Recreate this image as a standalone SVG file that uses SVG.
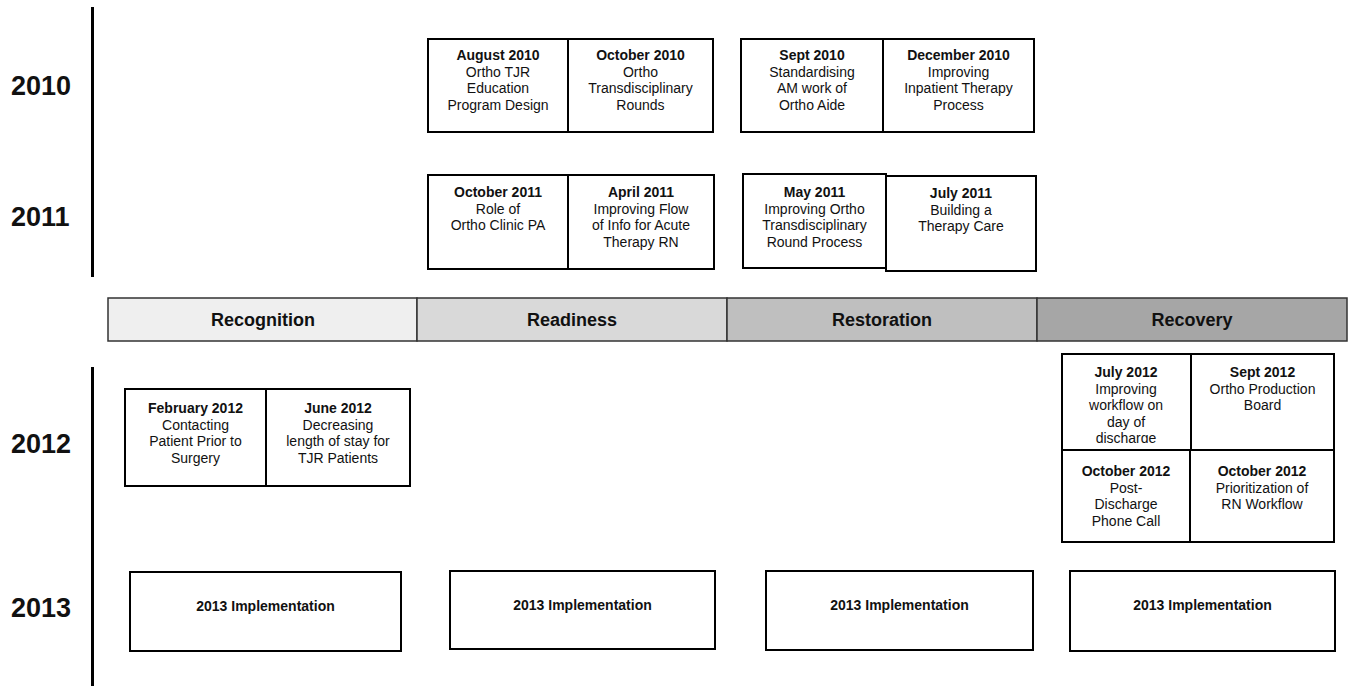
<svg xmlns="http://www.w3.org/2000/svg" width="1348" height="686" viewBox="0 0 1348 686">
<style>
text{font-family:"Liberation Sans",Arial,sans-serif;fill:#111;text-anchor:middle}
.yr{font-size:27px;font-weight:bold;text-anchor:start}
.ph{font-size:18px;font-weight:bold}
.t{font-size:14px}
.b{font-weight:bold}
.box{fill:#fff;stroke:#000;stroke-width:2}
.bar{stroke:#333;stroke-width:1.5}
.axis{stroke:#000;stroke-width:3}
</style>
<defs>
<clipPath id="clipJuly"><rect x="1062" y="355" width="128" height="88"/></clipPath>
</defs>
<g id="axes">
<line class="axis" x1="92.5" y1="7" x2="92.5" y2="277"/>
<line class="axis" x1="92.5" y1="367" x2="92.5" y2="686"/>
</g>
<g id="years">
<text class="yr" x="11" y="95">2010</text>
<text class="yr" x="11" y="226">2011</text>
<text class="yr" x="11" y="453">2012</text>
<text class="yr" x="11" y="617">2013</text>
</g>
<g id="phases">
<g id="recognition"><rect class="bar" x="108" y="298" width="309" height="43" fill="#efefef"/><text class="ph" x="263" y="326">Recognition</text></g>
<g id="readiness"><rect class="bar" x="417" y="298" width="310" height="43" fill="#d9d9d9"/><text class="ph" x="572" y="326">Readiness</text></g>
<g id="restoration"><rect class="bar" x="727" y="298" width="310" height="43" fill="#bfbfbf"/><text class="ph" x="882" y="326">Restoration</text></g>
<g id="recovery"><rect class="bar" x="1037" y="298" width="310" height="43" fill="#a6a6a6"/><text class="ph" x="1192" y="326">Recovery</text></g>
</g>
<g id="connectors"></g>
<g id="n-aug2010"><rect class="box" x="428" y="39" width="140" height="93"/>
<text class="t" x="498"><tspan class="b" x="498" y="60">August 2010</tspan><tspan x="498" y="76.5">Ortho TJR</tspan><tspan x="498" y="93">Education</tspan><tspan x="498" y="109.5">Program Design</tspan></text></g>
<g id="n-oct2010"><rect class="box" x="568" y="39" width="145" height="93"/>
<text class="t" x="640.5"><tspan class="b" x="640.5" y="60">October 2010</tspan><tspan x="640.5" y="76.5">Ortho</tspan><tspan x="640.5" y="93">Transdisciplinary</tspan><tspan x="640.5" y="109.5">Rounds</tspan></text></g>
<g id="n-sep2010"><rect class="box" x="741" y="39" width="142" height="93"/>
<text class="t" x="812"><tspan class="b" x="812" y="60">Sept 2010</tspan><tspan x="812" y="76.5">Standardising</tspan><tspan x="812" y="93">AM work of</tspan><tspan x="812" y="109.5">Ortho Aide</tspan></text></g>
<g id="n-dec2010"><rect class="box" x="883" y="39" width="151" height="93"/>
<text class="t" x="958.5"><tspan class="b" x="958.5" y="60">December 2010</tspan><tspan x="958.5" y="76.5">Improving</tspan><tspan x="958.5" y="93">Inpatient Therapy</tspan><tspan x="958.5" y="109.5">Process</tspan></text></g>
<g id="n-oct2011"><rect class="box" x="428" y="175" width="140" height="94"/>
<text class="t" x="498"><tspan class="b" x="498" y="197">October 2011</tspan><tspan x="498" y="213.5">Role of</tspan><tspan x="498" y="230">Ortho Clinic PA</tspan></text></g>
<g id="n-apr2011"><rect class="box" x="568" y="175" width="146" height="94"/>
<text class="t" x="641"><tspan class="b" x="641" y="197">April 2011</tspan><tspan x="641" y="213.5">Improving Flow</tspan><tspan x="641" y="230">of Info for Acute</tspan><tspan x="641" y="246.5">Therapy RN</tspan></text></g>
<g id="n-may2011"><rect class="box" x="743" y="174" width="143" height="94"/>
<text class="t" x="814.5"><tspan class="b" x="814.5" y="197">May 2011</tspan><tspan x="814.5" y="213.5">Improving Ortho</tspan><tspan x="814.5" y="230">Transdisciplinary</tspan><tspan x="814.5" y="246.5">Round Process</tspan></text></g>
<g id="n-jul2011"><rect class="box" x="886" y="176" width="150" height="95"/>
<text class="t" x="961"><tspan class="b" x="961" y="198">July 2011</tspan><tspan x="961" y="214.5">Building a</tspan><tspan x="961" y="231">Therapy Care</tspan></text></g>
<g id="n-feb2012"><rect class="box" x="125" y="389" width="141" height="97"/>
<text class="t" x="195.5"><tspan class="b" x="195.5" y="413">February 2012</tspan><tspan x="195.5" y="429.5">Contacting</tspan><tspan x="195.5" y="446">Patient Prior to</tspan><tspan x="195.5" y="462.5">Surgery</tspan></text></g>
<g id="n-jun2012"><rect class="box" x="266" y="389" width="144" height="97"/>
<text class="t" x="338"><tspan class="b" x="338" y="413">June 2012</tspan><tspan x="338" y="429.5">Decreasing</tspan><tspan x="338" y="446">length of stay for</tspan><tspan x="338" y="462.5">TJR Patients</tspan></text></g>
<g id="n-jul2012"><rect class="box" x="1062" y="354" width="129" height="96"/>
<text class="t" x="1126" clip-path="url(#clipJuly)"><tspan class="b" x="1126" y="377">July 2012</tspan><tspan x="1126" y="393.5">Improving</tspan><tspan x="1126" y="410">workflow on</tspan><tspan x="1126" y="426.5">day of</tspan><tspan x="1126" y="443">discharge</tspan></text></g>
<g id="n-sep2012"><rect class="box" x="1191" y="354" width="143" height="96"/>
<text class="t" x="1262.5"><tspan class="b" x="1262.5" y="377">Sept 2012</tspan><tspan x="1262.5" y="393.5">Ortho Production</tspan><tspan x="1262.5" y="410">Board</tspan></text></g>
<g id="n-oct2012a"><rect class="box" x="1062" y="450" width="128" height="92"/>
<text class="t" x="1126"><tspan class="b" x="1126" y="476">October 2012</tspan><tspan x="1126" y="492.5">Post-</tspan><tspan x="1126" y="509">Discharge</tspan><tspan x="1126" y="525.5">Phone Call</tspan></text></g>
<g id="n-oct2012b"><rect class="box" x="1190" y="450" width="144" height="92"/>
<text class="t" x="1262"><tspan class="b" x="1262" y="476">October 2012</tspan><tspan x="1262" y="492.5">Prioritization of</tspan><tspan x="1262" y="509">RN Workflow</tspan></text></g>
<g id="n-impl1"><rect class="box" x="130" y="572" width="271" height="79"/><text class="t b" x="265.5" y="611">2013 Implementation</text></g>
<g id="n-impl2"><rect class="box" x="450" y="571" width="265" height="78"/><text class="t b" x="582.5" y="610">2013 Implementation</text></g>
<g id="n-impl3"><rect class="box" x="766" y="571" width="267" height="79"/><text class="t b" x="899.5" y="610">2013 Implementation</text></g>
<g id="n-impl4"><rect class="box" x="1070" y="571" width="265" height="80"/><text class="t b" x="1202.5" y="610">2013 Implementation</text></g>
</svg>
